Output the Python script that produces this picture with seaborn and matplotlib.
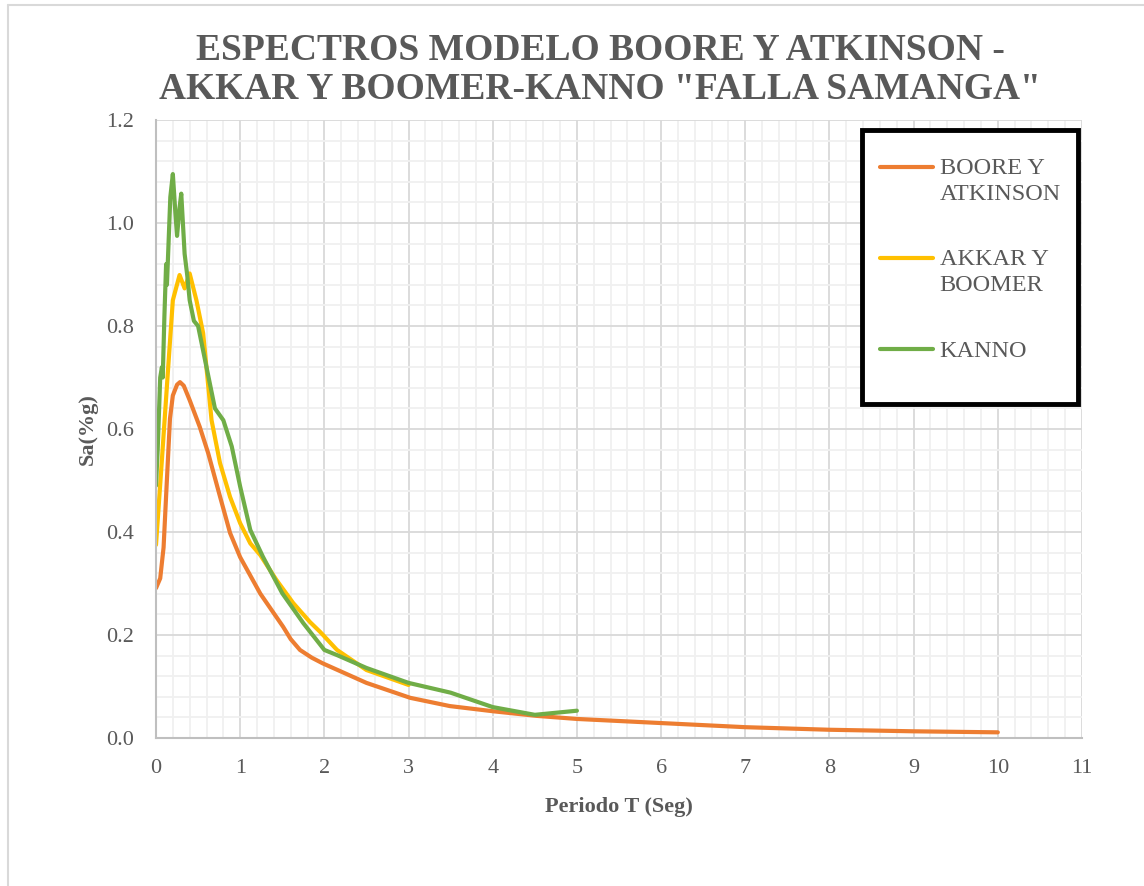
import numpy as np
import pandas as pd
import matplotlib
matplotlib.use("Agg")
import matplotlib.pyplot as plt
from matplotlib.lines import Line2D
from matplotlib.patches import Rectangle
from matplotlib.ticker import MultipleLocator, FormatStrFormatter
from matplotlib.legend_handler import HandlerLine2D
import seaborn as sns

# ---- data ----
boore_T = [0.0, 0.05, 0.09, 0.12, 0.166, 0.2, 0.25, 0.285, 0.33, 0.4, 0.52, 0.62, 0.75, 0.88, 1.0, 1.24,
           1.51, 1.6, 1.71, 1.85, 1.98, 2.5, 3.02, 3.49, 4.0, 4.52, 5.0, 6.0, 7.0, 8.0, 9.0, 10.0]
boore_Sa = [0.291, 0.31, 0.37, 0.47, 0.62, 0.665, 0.686, 0.691, 0.684, 0.656, 0.604, 0.553, 0.475, 0.398, 0.351,
            0.28, 0.216, 0.192, 0.171, 0.156, 0.145, 0.107, 0.078, 0.062, 0.052, 0.043, 0.037, 0.029, 0.021,
            0.016, 0.013, 0.011]

akkar_T = [0.0, 0.07, 0.145, 0.2, 0.28, 0.34, 0.4, 0.48, 0.56, 0.66, 0.76, 0.88, 1.0, 1.12, 1.24,
           1.43, 1.63, 1.83, 1.95, 2.15, 2.5, 3.0]
akkar_Sa = [0.375, 0.54, 0.72, 0.85, 0.899, 0.873, 0.902, 0.85, 0.786, 0.617, 0.534, 0.468, 0.417, 0.378, 0.355,
            0.307, 0.262, 0.225, 0.206, 0.171, 0.132, 0.103]

kanno_T = [0.0, 0.02, 0.05, 0.07, 0.08, 0.1, 0.12, 0.13, 0.17, 0.2, 0.23, 0.25, 0.28, 0.3, 0.34, 0.37,
           0.4, 0.45, 0.5, 0.6, 0.7, 0.8, 0.9, 1.0, 1.12, 1.27, 1.5, 1.75, 2.0, 2.15, 2.5, 3.0,
           3.5, 4.0, 4.5, 5.0]
kanno_Sa = [0.49, 0.56, 0.70, 0.72, 0.70, 0.82, 0.92, 0.88, 1.05, 1.095, 1.02, 0.975, 1.03, 1.057, 0.94, 0.90,
            0.85, 0.81, 0.80, 0.72, 0.64, 0.617, 0.566, 0.488, 0.404, 0.352, 0.281, 0.223, 0.171, 0.161, 0.136, 0.107,
            0.088, 0.060, 0.045, 0.053]

series_names = ["BOORE Y\nATKINSON", "AKKAR Y\nBOOMER", "KANNO"]
colors = ["#ED7D31", "#FFC000", "#70AD47"]

title = 'ESPECTROS MODELO BOORE Y ATKINSON -\nAKKAR Y BOOMER-KANNO "FALLA SAMANGA"'
xlabel = "Periodo T (Seg)"
ylabel = "Sa(%g)"

df = pd.concat([
    pd.DataFrame({"T": boore_T, "Sa": boore_Sa, "serie": series_names[0]}),
    pd.DataFrame({"T": akkar_T, "Sa": akkar_Sa, "serie": series_names[1]}),
    pd.DataFrame({"T": kanno_T, "Sa": kanno_Sa, "serie": series_names[2]}),
], ignore_index=True)

# ---- style ----
sns.set_theme(style="white")
plt.rcParams["font.family"] = ["Liberation Serif", "DejaVu Serif"]
text_color = "#595959"

W, H = 1144, 886
fig = plt.figure(figsize=(W / 100, H / 100), dpi=100)
fig.subplots_adjust(left=156 / W, right=1082 / W, top=1 - 120 / H, bottom=1 - 738 / H)
ax = fig.add_subplot(111)

sns.lineplot(data=df, x="T", y="Sa", hue="serie", palette=dict(zip(series_names, colors)),
             estimator=None, sort=False, linewidth=3.0, ax=ax, legend=False)
for ln in ax.get_lines():
    ln.set_solid_joinstyle("round")
    ln.set_solid_capstyle("round")

ax.set_xlim(0, 11)
ax.set_ylim(0, 1.2)
ax.xaxis.set_major_locator(MultipleLocator(1))
ax.xaxis.set_minor_locator(MultipleLocator(0.2))
ax.yaxis.set_major_locator(MultipleLocator(0.2))
ax.yaxis.set_minor_locator(MultipleLocator(0.04))
ax.yaxis.set_major_formatter(FormatStrFormatter("%.1f"))
ax.grid(which="major", color="#d9d9d9", linewidth=1.3)
ax.grid(which="minor", color="#f0f0f0", linewidth=1.3)
ax.set_axisbelow(True)

for s in ["top", "right"]:
    ax.spines[s].set_visible(False)
for s in ["left", "bottom"]:
    ax.spines[s].set_color("#bfbfbf")
    ax.spines[s].set_linewidth(1.5)

ax.tick_params(axis="both", which="both", length=0, labelsize=16, labelcolor=text_color)
ax.tick_params(axis="x", pad=15)
ax.tick_params(axis="y", pad=16)

ax.set_xlabel(xlabel, fontsize=16, fontweight="bold", color=text_color, labelpad=14)
ax.set_ylabel(ylabel, fontsize=16, fontweight="bold", color=text_color, labelpad=6)

fig.text(600 / W, 1 - 70 / H, title, ha="center", va="center", fontsize=27,
         fontweight="bold", color=text_color, linespacing=1.17)

# legend box
x0 = (862 - 156) / 926
y0 = (738 - 404) / 618
bw = (1078 - 862) / 926
bh = (404 - 130) / 618
ax.add_patch(Rectangle((x0, y0), bw, bh, transform=ax.transAxes, facecolor="white",
                       edgecolor="black", linewidth=3.5, clip_on=False, zorder=5))


class FirstLineHandler(HandlerLine2D):
    """Place the legend line next to the first text line of a two-line label."""
    def __init__(self, shift, **kw):
        super().__init__(**kw)
        self.shift = shift

    def create_artists(self, legend, orig_handle, xdescent, ydescent, width, height,
                       fontsize, trans):
        arts = super().create_artists(legend, orig_handle, xdescent, ydescent, width,
                                      height, fontsize, trans)
        for a in arts:
            y = np.asarray(a.get_ydata(), dtype=float)
            a.set_ydata(y + self.shift * fontsize)
        return arts


handles = [Line2D([0], [0], color=c, linewidth=3.0) for c in colors]
hmap = {handles[0]: FirstLineHandler(0.58), handles[1]: FirstLineHandler(0.58)}
leg = ax.legend(handles, series_names, loc="upper left", handler_map=hmap,
                bbox_to_anchor=((880 - 156) / 926, (738 - 158) / 618),
                frameon=False, fontsize=17.5, labelspacing=1.82, handlelength=2.2,
                handletextpad=0.25, borderaxespad=0, borderpad=0, labelcolor=text_color)
for t in leg.get_texts():
    t.set_linespacing(1.3)
leg.set_zorder(6)

# outer chart border (left & top visible)
fig.add_artist(Line2D([8 / W, 8 / W], [0, 1 - 5 / H], transform=fig.transFigure,
                      color="#d9d9d9", linewidth=1.5))
fig.add_artist(Line2D([8 / W, 1], [1 - 5 / H, 1 - 5 / H], transform=fig.transFigure,
                      color="#d9d9d9", linewidth=1.5))

fig.savefig("out.png", dpi=100, facecolor="white")
